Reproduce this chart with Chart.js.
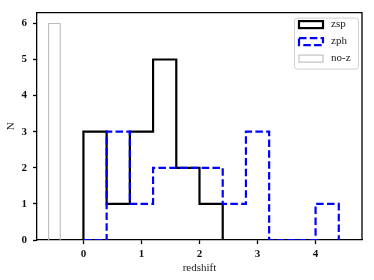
<!DOCTYPE html>
<html>
<head>
<meta charset="utf-8">
<script src="https://cdn.jsdelivr.net/npm/chart.js@4.4.0/dist/chart.umd.min.js"></script>
<style>
  html, body { margin: 0; padding: 0; background: #fff; }
  #wrap { width: 374px; height: 280px; }
</style>
</head>
<body>
<div id="wrap"><canvas id="histChart"></canvas></div>
<script>
// histogram bins (redshift) and counts
const binEdges = [0, 0.4, 0.8, 1.2, 1.6, 2.0, 2.4, 2.8, 3.2, 3.6, 4.0, 4.4];
const zspCounts = [3, 1, 3, 5, 2, 1, 0, 0, 0, 0, 0];
const zphCounts = [0, 3, 1, 2, 2, 2, 1, 3, 0, 0, 1];
const nozEdges = [-0.6, -0.4];
const nozCounts = [6];
const xTicks = [0, 1, 2, 3, 4];
const yTicks = [0, 1, 2, 3, 4, 5, 6];

const serif = "'Liberation Serif', 'DejaVu Serif', serif";

// turn edges + counts into points for a stepped line (matplotlib histtype='step')
function stepPoints(edges, counts) {
    const pts = [{ x: edges[0], y: 0 }];
    counts.forEach((c, i) => pts.push({ x: edges[i], y: c }));
    pts.push({ x: edges[edges.length - 1], y: 0 });
    return pts;
}

// top + right spines
const frame = {
    id: 'frame',
    beforeDatasetsDraw(chart) {
        const { ctx, chartArea: a } = chart;
        ctx.save();
        ctx.strokeStyle = '#000';
        ctx.lineWidth = 1.3;
        ctx.beginPath();
        ctx.moveTo(a.left, a.top);
        ctx.lineTo(a.right, a.top);
        ctx.lineTo(a.right, a.bottom);
        ctx.stroke();
        ctx.restore();
    }
};

// legend drawn inside the axes, upper right
const insideLegend = {
    id: 'insideLegend',
    afterDraw(chart) {
        const { ctx, chartArea: a } = chart;
        const bx = a.right - 68, by = a.top + 5, bw = 64, bh = 51;
        ctx.save();
        ctx.fillStyle = 'rgba(255,255,255,0.8)';
        ctx.strokeStyle = '#d0d0d0';
        ctx.lineWidth = 1;
        ctx.beginPath();
        ctx.roundRect(bx + 0.5, by + 0.5, bw, bh, 3);
        ctx.fill();
        ctx.stroke();
        chart.data.datasets.forEach((ds, i) => {
            const cy = by + 7 + i * 17;
            ctx.setLineDash(ds.borderDash || []);
            ctx.lineWidth = ds.borderWidth;
            ctx.strokeStyle = ds.borderColor;
            ctx.strokeRect(bx + 5, cy - 3.5, 24, 7);
            ctx.setLineDash([]);
            ctx.fillStyle = '#222';
            ctx.font = '11px ' + serif;
            ctx.textBaseline = 'middle';
            ctx.fillText(ds.label, bx + 37, cy);
        });
        ctx.restore();
    }
};

const ctx = document.getElementById('histChart').getContext('2d');
new Chart(ctx, {
    type: 'line',
    data: {
        datasets: [
            {
                label: 'zsp',
                data: stepPoints(binEdges, zspCounts),
                borderColor: '#000',
                borderWidth: 2.2,
                stepped: true,
                pointRadius: 0,
                fill: false,
                order: 1
            },
            {
                label: 'zph',
                data: stepPoints(binEdges, zphCounts),
                borderColor: '#0000ff',
                borderWidth: 2.2,
                borderDash: [7.5, 3.3],
                stepped: true,
                pointRadius: 0,
                fill: false,
                order: 0
            },
            {
                label: 'no-z',
                data: stepPoints(nozEdges, nozCounts),
                borderColor: '#bdbdbd',
                borderWidth: 1.1,
                stepped: true,
                pointRadius: 0,
                fill: false,
                order: 2
            }
        ]
    },
    options: {
        responsive: true,
        maintainAspectRatio: false,
        animation: false,
        layout: { padding: { left: 0, right: 12, top: 12, bottom: 0 } },
        plugins: {
            legend: { display: false },
            tooltip: { enabled: false }
        },
        scales: {
            x: {
                type: 'linear',
                min: -0.8,
                max: 4.8,
                afterBuildTicks: s => { s.ticks = xTicks.map(v => ({ value: v })); },
                afterFit: s => { s.height = 40; },
                grid: { display: true, drawOnChartArea: false, drawTicks: true, tickLength: 4, tickWidth: 1.3, tickColor: '#000' },
                border: { display: true, color: '#000', width: 1.3 },
                ticks: { color: '#111', padding: 4, maxRotation: 0, font: { family: serif, size: 11, weight: 'bold' } },
                title: { display: true, text: 'redshift', color: '#222', font: { family: serif, size: 11 }, padding: { top: 0, bottom: 5 } }
            },
            y: {
                min: 0,
                max: 6.3,
                afterBuildTicks: s => { s.ticks = yTicks.map(v => ({ value: v })); },
                afterFit: s => { s.width = 37; },
                grid: { display: true, drawOnChartArea: false, drawTicks: true, tickLength: 4, tickWidth: 1.3, tickColor: '#000' },
                border: { display: true, color: '#000', width: 1.3 },
                ticks: { color: '#111', padding: 6, font: { family: serif, size: 11, weight: 'bold' } },
                title: { display: true, text: 'N', color: '#222', font: { family: serif, size: 11 }, padding: { top: 5, bottom: 0 } }
            }
        }
    },
    plugins: [frame, insideLegend]
});
</script>
</body>
</html>
